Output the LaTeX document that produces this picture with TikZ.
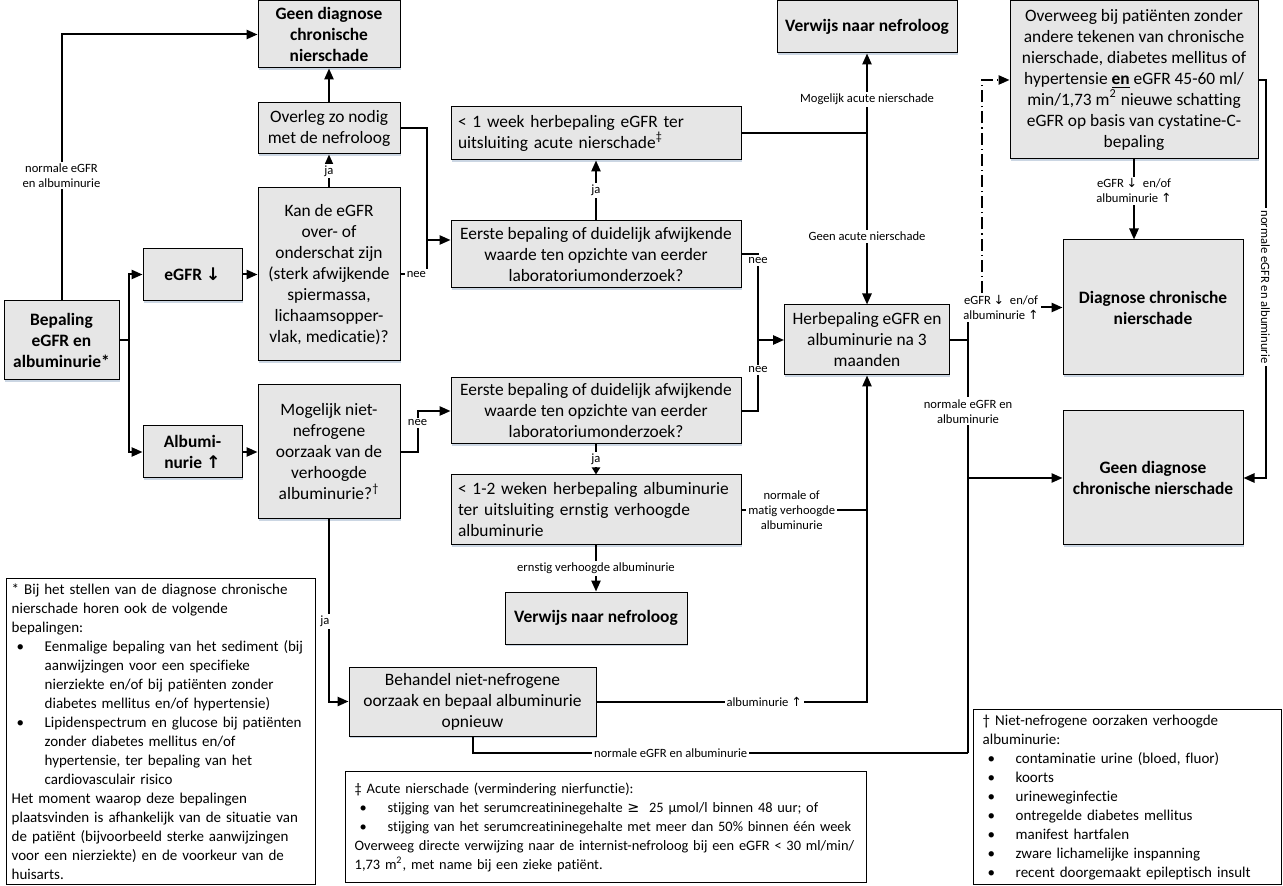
\documentclass[tikz,border=0pt]{standalone}
\usepackage{fontspec}
\setmainfont{Carlito}[Ligatures=NoCommon]
\newfontfamily\arrowfont{DejaVu Sans}
\usetikzlibrary{positioning, arrows.meta, calc, shadows}
\definecolor{boxgray}{HTML}{E6E6E6}
\definecolor{shadowblue}{HTML}{A9BAD0}
\newcommand{\pijlneer}{{\arrowfont ↓}}
\newcommand{\pijlop}{{\arrowfont ↑}}
\newcommand{\punt}{\hangindent=16.5pt\hangafter=1\hspace*{2.5pt}\makebox[14pt][l]{\textbullet}}
\setlength{\parindent}{0pt}

\begin{document}
\begin{tikzpicture}[
  x=0.5pt, y=-0.5pt,
  font=\fontsize{8.7}{10.5}\selectfont,
  dims/.style 2 args={minimum width=#1*0.5pt, minimum height=#2*0.5pt},
  box/.style={
    draw=black, line width=0.5pt, fill=boxgray, align=center, inner sep=2pt,
    drop shadow={shadow xshift=0.4pt, shadow yshift=-1.2pt, fill=shadowblue, opacity=0.6}
  },
  boxbold/.style={box, font=\fontsize{8.7}{10.5}\selectfont\bfseries},
  boxleft/.style={box, align=left, text width=138pt, inner xsep=3.5pt},
  note/.style={
    draw=black, line width=0.7pt, anchor=north west, align=left,
    inner xsep=4.5pt, inner ysep=1.5pt, font=\fontsize{7.5}{9.5}\selectfont
  },
  conn/.style={line width=1pt},
  arrow/.style={conn, -{Triangle[length=5.5pt, width=4.6pt]}},
  smallarrow/.style={conn, -{Triangle[length=3.5pt, width=4pt]}},
  arrowlabel/.style={fill=white, inner sep=1pt, align=center, font=\fontsize{6.3}{7.5}\selectfont},
  dashdotline/.style={dash pattern=on 6pt off 2pt on 0.6pt off 2pt},
]
\useasboundingbox (0,0) rectangle (1283,886);

\node[boxbold, dims={142}{67}] (geen1) at (329,34.5) {Geen diagnose\\chronische\\nierschade};
\node[box, dims={142}{51}] (overleg) at (329,128.5) {Overleg zo nodig\\met de nefroloog};
\node[box, dims={142}{173}] (kan) at (329,274.5) {Kan de eGFR\\over- of\\onderschat zijn\\(sterk afwijkende\\spiermassa,\\lichaamsopper-\\vlak, medicatie)?};
\node[boxbold, dims={99}{52}] (egfr) at (192.5,274.5) {eGFR \pijlneer};
\node[boxbold, dims={115}{79}] (bepaling) at (61.5,340.5) {Bepaling\\eGFR en\\albuminurie*};
\node[boxbold, dims={99}{52}] (albumi) at (192.5,452) {Albumi-\\nurie \pijlop};
\node[box, dims={142}{134}] (mogelijk) at (329,452) {Mogelijk niet-\\nefrogene\\oorzaak van de\\verhoogde\\albuminurie?\textsuperscript{†}};

\node[boxleft, dims={290}{53}] (week1) at (596,133.5) {< 1 week herbepaling eGFR ter\\uitsluiting acute nierschade\textsuperscript{‡}};
\node[box, dims={290}{67}] (eerste1) at (596,254.5) {Eerste bepaling of duidelijk afwijkende\\waarde ten opzichte van eerder\\laboratoriumonderzoek?};
\node[box, dims={290}{66}] (eerste2) at (596,411) {Eerste bepaling of duidelijk afwijkende\\waarde ten opzichte van eerder\\laboratoriumonderzoek?};
\node[boxleft, dims={290}{70}] (weeks12) at (596,510) {< 1-2 weken herbepaling albuminurie\\ter uitsluiting ernstig verhoogde\\albuminurie};
\node[boxbold, dims={182}{52}] (verwijs2) at (596,618) {Verwijs naar nefroloog};
\node[box, dims={247}{69}] (behandel) at (472.5,701.5) {Behandel niet-nefrogene\\oorzaak en bepaal albuminurie\\opnieuw};

\node[boxbold, dims={180}{52}] (verwijs1) at (867,27) {Verwijs naar nefroloog};
\node[box, dims={165}{70}] (herbep) at (867,340) {Herbepaling eGFR en\\albuminurie na 3\\maanden};

\node[box, dims={248}{158}] (overweeg) at (1134,80) {Overweeg bij patiënten zonder\\andere tekenen van chronische\\nierschade, diabetes mellitus of\\hypertensie \underline{\textbf{en}} eGFR 45-60 ml/\\min/1,73 m\textsuperscript{2} nieuwe schatting\\eGFR op basis van cystatine-C-\\bepaling};
\node[boxbold, dims={180}{135}] (diag) at (1153,307.5) {Diagnose chronische\\nierschade};
\node[boxbold, dims={180}{134}] (geen2) at (1153,478) {Geen diagnose\\chronische nierschade};

\node[note, minimum height=153pt, inner xsep=2.5pt, text width=149.5pt] (nster) at (6,578) {%
* Bij het stellen van de diagnose chronische\newline nierschade horen ook de volgende\newline bepalingen:\par
\punt Eenmalige bepaling van het sediment (bij\newline aanwijzingen voor een specifieke\newline nierziekte en/of bij patiënten zonder\newline diabetes mellitus en/of hypertensie)\par
\punt Lipidenspectrum en glucose bij patiënten\newline zonder diabetes mellitus en/of\newline hypertensie, ter bepaling van het\newline cardiovasculair risico\par
Het moment waarop deze bepalingen\newline plaatsvinden is afhankelijk van de situatie van\newline de patiënt (bijvoorbeeld sterke aanwijzingen\newline voor een nierziekte) en de voorkeur van de\newline huisarts.};
\node[note, text width=251.5pt, minimum height=55.5pt, font=\fontsize{7.2}{9.5}\selectfont] (nddag) at (345,771) {%
‡ Acute nierschade (vermindering nierfunctie):\par
\punt stijging van het serumcreatininegehalte {\arrowfont ≥}\ \ 25 µmol/l binnen 48 uur; of\par
\punt stijging van het serumcreatininegehalte met meer dan 50\% binnen één week\par
Overweeg directe verwijzing naar de internist-nefroloog bij een eGFR < 30 ml/min/\newline 1,73 m\textsuperscript{2}, met name bij een zieke patiënt.};
\node[note, text width=145pt, minimum height=87.5pt] (ndag) at (973,709) {%
† Niet-nefrogene oorzaken verhoogde\newline albuminurie:\par
\punt contaminatie urine (bloed, fluor)\par
\punt koorts\par
\punt urineweginfectie\par
\punt ontregelde diabetes mellitus\par
\punt manifest hartfalen\par
\punt zware lichamelijke inspanning\par
\punt recent doorgemaakt epileptisch insult};

\coordinate (bsplit) at ($(bepaling.east)+(9,0)$);
\coordinate (k1) at (427,240);
\coordinate (w1) at (week1.east -| herbep);
\coordinate (n1) at (758,340);
\coordinate (hsplit) at (968,340);
\coordinate (bend) at (968,753);
\coordinate (dd) at (982,81);

\draw[arrow] (bepaling.north) |- node[arrowlabel, pos=0.235] {normale eGFR\\en albuminurie} (geen1.west);
\draw[conn] (bepaling.east) -- (bsplit);
\draw[arrow] (bsplit) |- (egfr.west);
\draw[arrow] (bsplit) |- (albumi.west);
\draw[arrow] (egfr) -- (kan);
\draw[arrow] (albumi) -- (mogelijk);
\draw[arrow] (kan) -- node[arrowlabel] {ja} (overleg);
\draw[arrow] (overleg) -- (geen1);
\draw[conn] (kan.east) -| node[arrowlabel, pos=0.3] {nee} (k1);
\draw[conn] (overleg.east) -| (k1);
\draw[arrow] (k1) -- (k1 -| eerste1.west);

\draw[arrow] (eerste1) -- node[arrowlabel] {ja} (week1);
\draw[conn] (week1.east) -- (w1);
\draw[arrow] (w1) -- node[arrowlabel, pos=0.43] {Mogelijk acute nierschade} (verwijs1);
\draw[arrow] (w1) -- node[arrowlabel, pos=0.6] {Geen acute nierschade} (herbep);
\draw[conn] (eerste1.east) -| node[arrowlabel, pos=0.5, yshift=-3pt] {nee} (n1);
\draw[conn] (eerste2.east) -| node[arrowlabel, pos=0.79] {nee} (n1);
\draw[arrow] (n1) -- (herbep.west);
\draw[arrow] (mogelijk.east) -- ++(17,0) |- node[arrowlabel, pos=0.354] {nee} (eerste2.west);
\draw[smallarrow] (eerste2) -- node[arrowlabel] {ja} (weeks12);
\draw[arrow] (weeks12) -- node[arrowlabel] {ernstig verhoogde albuminurie} (verwijs2);
\draw[conn] (weeks12.east) -- node[arrowlabel, pos=0.4] {normale of\\matig verhoogde\\albuminurie} (weeks12.east -| herbep.south);
\draw[arrow] (mogelijk.south) |- node[arrowlabel, pos=0.28, xshift=-2pt] {ja} (behandel.west);
\draw[arrow] (behandel.east) -| node[arrowlabel, pos=0.31] {albuminurie \pijlop} (herbep.south);
\draw[conn] (behandel.south) |- node[arrowlabel, pos=0.7] {normale eGFR en albuminurie} (bend);

\node[arrowlabel] (lbdiag) at (1001,307.5) {eGFR \pijlneer\ \ en/of\\albuminurie \pijlop};
\draw[conn] (herbep.east) -- (hsplit);
\draw[arrow] (lbdiag.east) -- (diag.west);
\draw[arrow, dashdotline] (lbdiag.north -| dd) |- (overweeg.west);
\draw[conn] (lbdiag.south -| hsplit) -- node[arrowlabel, pos=0.207] {normale eGFR en\\albuminurie} (bend);
\draw[arrow] (hsplit |- geen2.west) -- (geen2.west);
\draw[arrow] (overweeg.south) -- node[arrowlabel, pos=0.39] {eGFR \pijlneer\ \ en/of\\albuminurie \pijlop} (overweeg.south |- diag.north);
\draw[arrow] (overweeg.east) -- ++(7,0) |- node[arrowlabel, rotate=-90, pos=0.26] {normale eGFR en albuminurie} (geen2.east);

\end{tikzpicture}
\end{document}
